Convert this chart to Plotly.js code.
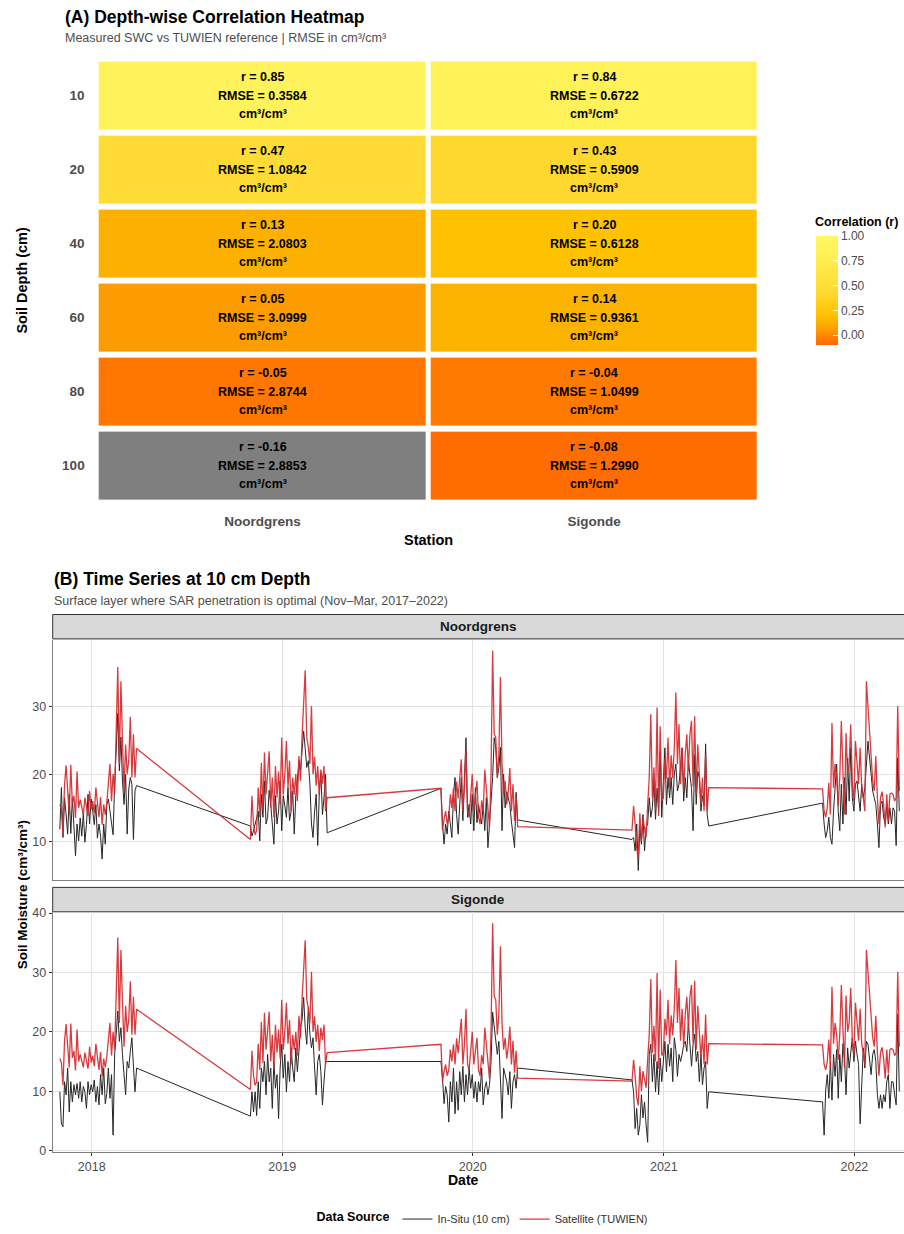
<!DOCTYPE html>
<html><head><meta charset="utf-8">
<script src="https://cdn.plot.ly/plotly-3.0.1.min.js"></script>
<style>html,body{margin:0;padding:0;background:#fff}#chart{width:904px;height:1234px}</style>
</head><body><div id="chart"></div>
<script>
// ---------- Panel A data ----------
const depths = ['10','20','40','60','80','100'];
const stations = ['Noordgrens','Sigonde'];
const rNoordgrens = [0.85, 0.47, 0.13, 0.05, -0.05, -0.16];
const rSigonde    = [0.84, 0.43, 0.20, 0.14, -0.04, -0.08];
const rmseNoordgrens = [0.3584, 1.0842, 2.0803, 3.0999, 2.8744, 2.8853];
const rmseSigonde    = [0.6722, 0.5909, 0.6128, 0.9361, 1.0499, 1.2990];
const colorTicks = [0, 0.25, 0.5, 0.75, 1];
const rLimits = [-0.1, 1];

// ---------- Panel B data (Nov–Mar seasons, one reading every 3 days) ----------
const seasonStarts = ['2017-11-01','2018-11-01','2019-11-01','2020-11-01','2021-11-01'];
const stepDays = 3;
const yearTicks = ['2018','2019','2020','2021','2022'];

const sat_2017_18 = [15.5,14.8,11.0,18.4,21.3,16.5,14.0,21.4,15.6,16.8,13.5,20.4,15.0,16.2,15.0,14.0,16.5,15.3,13.8,17.5,14.8,16.0,14.2,18.0,15.2,13.6,16.6,12.5,15.5,14.0,15.8,18.5,21.5,16.0,20.0,17.0,25.0,35.9,21.5,33.8,25.0,17.5,24.4,20.0,22.0,28.5,19.5,25.9,19.5,23.8];
const sat_2018_19 = [10.3,16.8,12.6,11.0,11.6,18.0,13.6,21.7,14.7,23.2,17.0,21.0,23.4,15.0,19.5,13.6,21.2,16.5,20.4,15.5,25.4,17.0,20.0,24.9,18.0,22.0,14.5,19.5,17.0,20.0,16.0,22.7,19.0,25.5,30.0,35.4,25.4,24.0,21.5,30.1,20.0,22.6,18.3,21.2,16.8,20.7,18.6,21.2,14.5,16.5];
const sat_2019_20 = [17.9,11.7,13.3,14.5,12.6,13.6,17.0,15.0,17.9,14.5,18.9,16.4,19.4,22.2,14.5,17.9,23.9,14.5,13.6,17.0,20.0,14.5,17.0,19.0,13.6,12.6,16.1,14.5,20.7,17.9,14.0,12.1,20.0,38.3,26.0,25.4,19.5,23.0,34.4,21.5,17.0,19.0,15.5,17.4,20.9,14.5,18.5,13.1,16.8,12.2];
const sat_2020_21 = [11.7,15.3,12.6,9.0,7.6,14.2,10.0,13.4,12.0,10.6,15.4,19.5,28.9,16.5,21.0,15.0,29.9,13.8,27.1,16.0,16.5,22.2,19.4,25.4,17.9,22.8,19.4,24.0,32.1,21.5,27.4,18.5,23.9,17.4,23.0,25.9,20.5,26.0,27.9,18.2,28.6,17.0,24.4,20.5,15.5,19.5,14.5,22.9,14.5,18.0];
const sat_2021_22 = [17.8,14.5,13.6,15.0,18.7,14.0,27.6,18.0,21.5,19.5,15.3,19.6,27.9,20.5,14.0,26.1,20.0,21.5,27.4,18.5,16.0,24.9,21.0,18.5,23.9,18.0,16.5,14.5,33.8,30.1,27.5,23.0,19.0,17.5,22.7,16.5,12.6,16.5,17.4,15.5,12.1,17.0,13.0,17.0,17.2,17.0,16.0,16.5,30.1,17.5];

const noord_2017_18 = [11.8,18.0,10.6,16.5,14.0,11.1,17.0,11.2,16.5,13.0,7.9,12.6,10.1,13.5,10.8,14.3,9.9,12.5,17.0,12.6,16.3,14.5,12.5,15.5,10.5,12.6,10.8,7.4,12.6,9.6,15.5,16.3,14.5,12.0,11.0,18.5,23.0,29.0,20.5,25.5,19.0,15.5,20.0,11.1,17.8,19.5,18.5,10.3,17.6,18.3];
const noord_2018_19 = [12.3,10.8,11.6,12.8,13.5,14.5,10.1,17.0,13.6,19.0,12.6,13.6,17.6,15.5,12.0,9.6,16.8,12.6,14.5,19.0,11.6,16.8,15.3,13.6,18.0,13.1,14.5,17.5,11.1,16.8,19.0,22.0,20.5,23.0,26.4,23.8,21.0,22.0,18.5,12.6,10.6,14.5,17.0,9.4,17.4,20.2,14.0,16.5,20.0,11.3];
const noord_2019_20 = [17.9,12.6,9.6,12.6,11.1,14.5,12.0,10.6,17.0,19.5,14.0,11.1,15.5,19.5,13.1,21.0,25.4,13.6,15.5,12.6,17.0,11.6,18.0,12.8,15.5,14.0,12.6,15.5,11.6,16.5,9.1,12.6,16.5,19.5,25.4,23.9,19.5,21.0,24.0,11.6,20.0,15.0,17.4,16.4,15.5,13.0,10.5,9.1,17.3,13.2];
const noord_2020_21 = [10.3,10.6,8.6,12.6,5.7,12.1,9.6,14.0,8.6,12.1,12.6,16.5,13.6,15.0,19.0,13.3,17.9,14.5,23.4,13.6,18.9,23.9,15.5,19.5,16.5,19.5,15.5,20.0,21.5,17.5,18.5,21.5,23.9,16.0,19.5,16.5,22.0,19.9,17.9,11.6,22.9,15.5,20.4,19.5,14.5,16.8,15.3,24.5,14.0,12.3];
const noord_2021_22 = [15.7,12.6,10.6,11.6,13.6,10.6,9.6,14.5,19.0,21.5,14.5,11.6,18.5,12.6,19.5,14.0,22.4,16.0,23.9,16.5,14.5,18.5,19.0,16.5,14.5,18.5,16.5,18.0,22.0,24.9,22.4,20.4,17.5,16.5,15.5,12.6,9.1,15.5,16.0,13.6,12.6,15.5,12.6,15.0,12.6,15.0,14.5,9.4,22.4,14.5];

const sig_2017_18 = [9.9,4.5,4.0,11.6,9.4,13.9,6.5,11.6,8.2,11.1,9.4,11.3,8.8,11.6,8.2,10.8,9.9,7.1,11.6,9.4,11.1,9.9,11.9,8.2,10.8,7.7,12.8,9.4,13.9,7.9,9.6,13.9,8.8,12.8,2.6,16.2,19.6,23.5,18.4,20.7,16.2,13.3,9.4,15.0,13.9,16.7,19.0,14.2,9.9,13.9];
const sig_2018_19 = [5.8,9.9,6.5,9.9,5.9,11.6,7.1,13.9,11.6,15.0,9.4,16.2,11.6,13.9,7.1,15.0,10.5,12.8,5.4,13.9,17.9,12.2,16.2,9.9,15.0,11.6,17.3,13.9,11.6,17.3,13.3,16.7,20.7,22.0,25.8,20.7,17.9,24.1,19.6,17.3,19.0,13.9,9.4,15.0,16.2,13.3,7.7,11.6,15.0,15.0];
const sig_2019_20 = [15.0,12.2,7.9,10.8,9.4,4.8,11.6,8.2,13.9,6.2,11.6,6.8,13.3,9.4,14.2,8.2,12.8,9.4,13.9,10.5,12.8,8.8,11.6,8.2,11.6,9.9,13.9,7.7,10.5,11.6,9.4,11.1,15.0,23.3,20.7,19.0,16.2,18.4,12.2,5.4,13.9,12.8,11.6,9.4,13.3,7.1,11.6,12.8,10.5,13.9];
const sig_2020_21 = [11.9,9.9,3.7,7.1,2.6,4.3,9.4,5.5,8.2,4.3,1.4,16.2,17.9,11.6,16.2,9.9,15.0,9.4,15.6,11.6,15.0,18.4,13.3,17.9,14.2,17.3,11.6,19.0,17.0,12.5,16.2,15.0,16.2,17.9,18.4,16.7,21.5,18.0,14.2,17.9,19.6,15.0,16.7,11.6,16.2,11.1,13.9,15.0,7.1,9.9];
const sig_2021_22 = [8.2,2.6,10.2,12.8,8.8,15.0,8.5,16.2,12.5,17.0,8.8,16.2,11.6,18.0,15.6,9.4,17.3,13.9,16.0,19.0,15.0,18.4,16.2,14.5,4.5,12.8,17.3,13.9,18.4,17.9,15.0,12.8,16.2,17.0,15.0,9.4,7.1,9.4,7.1,9.4,8.2,11.6,12.8,7.1,11.6,11.6,9.4,7.7,23.0,10.0];

// ---------- helpers ----------
const FONT = 'Liberation Sans, Arial, Helvetica, sans-serif';
function seasonDates(start, n){
  const t0 = Date.parse(start + 'T00:00:00Z');
  return Array.from({length:n}, (_, k) => new Date(t0 + k*stepDays*86400000).toISOString().slice(0,10));
}
function joinSeasons(list){
  const x = [], y = [];
  list.forEach((vals, i) => { x.push(...seasonDates(seasonStarts[i], vals.length)); y.push(...vals); });
  return {x, y};
}
const W = 904, H = 1234;
const px = v => v / W;
const py = v => (H - v) / H;

const satSeries = joinSeasons([sat_2017_18, sat_2018_19, sat_2019_20, sat_2020_21, sat_2021_22]);
const noordSeries = joinSeasons([noord_2017_18, noord_2018_19, noord_2019_20, noord_2020_21, noord_2021_22]);
const sigSeries = joinSeasons([sig_2017_18, sig_2018_19, sig_2019_20, sig_2020_21, sig_2021_22]);

// ---------- heatmap ----------
const rByStation = [rNoordgrens, rSigonde];
const rmseByStation = [rmseNoordgrens, rmseSigonde];
const zIn = depths.map((d, i) => rByStation.map(r => (r[i] >= rLimits[0] && r[i] <= rLimits[1]) ? r[i] : null));
const zOut = depths.map((d, i) => rByStation.map(r => (r[i] < rLimits[0] || r[i] > rLimits[1]) ? r[i] : null));

const colorscale = [
  [0.000, '#FF6400'], [0.018, '#FF6D00'], [0.045, '#FF7700'], [0.136, '#FC9C00'],
  [0.209, '#FCB100'], [0.273, '#FFC200'], [0.500, '#FFDA33'], [0.860, '#FFF25A'], [1.000, '#FFF862']
];

const traces = [
  {
    type: 'heatmap', x: stations, y: depths, z: zIn, zmin: rLimits[0], zmax: rLimits[1],
    colorscale: colorscale, xgap: 5, ygap: 6, hoverinfo: 'skip', xaxis: 'x', yaxis: 'y',
    colorbar: {
      x: px(816), xanchor: 'left', xpad: 0, ypad: 0,
      y: py(237), yanchor: 'top', lenmode: 'pixels', len: 109, thickness: 22,
      outlinewidth: 0, ticks: 'inside', ticklen: 5, tickcolor: '#FFFFFF',
      tickvals: colorTicks, ticktext: colorTicks.map(v => v.toFixed(2)),
      tickfont: {size: 12, color: '#4D4D4D', family: FONT}
    }
  },
  {
    type: 'heatmap', x: stations, y: depths, z: zOut, showscale: false,
    colorscale: [[0, '#7F7F7F'], [1, '#7F7F7F']], xgap: 5, ygap: 6, hoverinfo: 'skip', xaxis: 'x', yaxis: 'y'
  },
  // Noordgrens panel
  {type: 'scatter', mode: 'lines', x: noordSeries.x, y: noordSeries.y, name: 'In-Situ (10 cm)', legendgroup: 'ins',
   line: {color: '#262626', width: 1}, xaxis: 'x2', yaxis: 'y2', hoverinfo: 'skip'},
  {type: 'scatter', mode: 'lines', x: satSeries.x, y: satSeries.y, name: 'Satellite (TUWIEN)', legendgroup: 'sat',
   line: {color: '#D42A2F', width: 1.3}, opacity: 0.92, xaxis: 'x2', yaxis: 'y2', hoverinfo: 'skip'},
  // Sigonde panel
  {type: 'scatter', mode: 'lines', x: sigSeries.x, y: sigSeries.y, name: 'In-Situ (10 cm)', legendgroup: 'ins', showlegend: false,
   line: {color: '#262626', width: 1}, xaxis: 'x3', yaxis: 'y3', hoverinfo: 'skip'},
  {type: 'scatter', mode: 'lines', x: satSeries.x, y: satSeries.y, name: 'Satellite (TUWIEN)', legendgroup: 'sat', showlegend: false,
   line: {color: '#D42A2F', width: 1.3}, opacity: 0.92, xaxis: 'x3', yaxis: 'y3', hoverinfo: 'skip'}
];

// ---------- annotations ----------
const ann = [];
function addText(text, x, y, opts){ ann.push(Object.assign({text, x, y, xref: 'paper', yref: 'paper', showarrow: false,
  xanchor: 'center', yanchor: 'middle', font: {family: FONT, size: 13, color: '#000'}}, opts || {})); }

addText('<b>(A) Depth-wise Correlation Heatmap</b>', px(63), py(17), {xanchor: 'left', font: {family: FONT, size: 17.5, color: '#000'}});
addText('Measured SWC vs TUWIEN reference | RMSE in cm³/cm³', px(63), py(38), {xanchor: 'left', font: {family: FONT, size: 12.5, color: '#4D4D4D'}});
addText('<b>(B) Time Series at 10 cm Depth</b>', px(52), py(581), {xanchor: 'left', font: {family: FONT, size: 17.5, color: '#000'}});
addText('Surface layer where SAR penetration is optimal (Nov–Mar, 2017–2022)', px(52), py(603), {xanchor: 'left', font: {family: FONT, size: 12.5, color: '#4D4D4D'}});
addText('<b>Soil Depth (cm)</b>', px(22), py(281.7), {textangle: -90, font: {family: FONT, size: 14.5, color: '#000'}});
addText('<b>Station</b>', px(428.3), py(542), {font: {family: FONT, size: 14.5, color: '#000'}});
addText('<b>Correlation (r)</b>', px(813), py(223), {xanchor: 'left', font: {family: FONT, size: 12.5, color: '#000'}});
addText('<b>Noordgrens</b>', px(478.4), py(629.5), {font: {family: FONT, size: 13.5, color: '#1A1A1A'}});
addText('<b>Sigonde</b>', px(478.4), py(903.5), {font: {family: FONT, size: 13.5, color: '#1A1A1A'}});
addText('<b>Date</b>', px(463), py(1185), {font: {family: FONT, size: 14, color: '#000'}});
addText('<b>Soil Moisture (cm³/cm³)</b>', px(22), py(899), {textangle: -90, font: {family: FONT, size: 13.5, color: '#000'}});

stations.forEach((s, j) => {
  depths.forEach((d, i) => {
    const r = rByStation[j][i], e = rmseByStation[j][i];
    const lines = ['<b>r = ' + r.toFixed(2) + '</b>', '<b>RMSE = ' + e.toFixed(4) + '</b>', '<b>cm³/cm³</b>'];
    const shifts = [18.7, 0, -18.3];
    lines.forEach((t, li) => ann.push({text: t, x: j, y: i, xref: 'x', yref: 'y', showarrow: false,
      xanchor: 'center', yanchor: 'middle', yshift: shifts[li], font: {family: FONT, size: 12.5, color: '#000'}}));
  });
});

// ---------- shapes (facet strips) ----------
const stripStyle = {type: 'rect', xref: 'paper', yref: 'paper', fillcolor: '#D9D9D9', line: {color: '#333333', width: 1}, layer: 'below'};
const shapes = [
  Object.assign({x0: px(52.7), x1: 1.02, y0: py(641.5), y1: py(617)}, stripStyle),
  Object.assign({x0: px(52.7), x1: 1.02, y0: py(915.5), y1: py(891)}, stripStyle)
];

const tsRange = ['2017-10-18 08:00', '2022-04-06'];
const gridC = '#E2E2E2';
const tickFont = {family: FONT, size: 12.5, color: '#4D4D4D'};
const hmTickFont = {family: FONT, size: 13.5, color: '#4D4D4D', weight: 700};

const layout = {
  width: W, height: H, margin: {l: 0, r: 0, t: 0, b: 0},
  paper_bgcolor: '#FFFFFF', plot_bgcolor: '#FFFFFF',
  font: {family: FONT, color: '#000'},
  showlegend: true,
  legend: {orientation: 'h', x: px(484), xanchor: 'center', y: py(1224), yanchor: 'middle',
    font: {family: FONT, size: 11, color: '#333333'}, itemwidth: 30,
    title: {text: '<b>Data Source</b>', side: 'left', font: {family: FONT, size: 12.5, color: '#000'}}},
  xaxis: {domain: [px(96.65), px(760.05)], anchor: 'y', type: 'category', showgrid: false, zeroline: false,
    ticks: '', tickfont: hmTickFont, ticklabelstandoff: 9, fixedrange: true},
  yaxis: {domain: [py(504.55), py(58.85)], anchor: 'x', type: 'category', categoryorder: 'array', categoryarray: depths,
    autorange: 'reversed', showgrid: false, zeroline: false, ticks: '', tickfont: hmTickFont, ticklabelstandoff: 11},
  xaxis2: {domain: [px(52.7), 1], anchor: 'y2', type: 'date', range: tsRange, matches: 'x3', showticklabels: false,
    ticks: '', tick0: yearTicks[0] + '-01-01', dtick: 'M12', showgrid: true, gridcolor: gridC, gridwidth: 1,
    zeroline: false, showline: true, linecolor: '#808080', linewidth: 1},
  yaxis2: {domain: [py(883.3), py(642.2)], anchor: 'x2', range: [4.33, 39.97], tick0: 0, dtick: 10,
    showgrid: true, gridcolor: gridC, zeroline: false, ticks: 'outside', ticklen: 3, tickcolor: '#333333',
    tickfont: tickFont, showline: true, linecolor: '#808080', linewidth: 1},
  xaxis3: {domain: [px(52.7), 1], anchor: 'y3', type: 'date', range: tsRange, tick0: yearTicks[0] + '-01-01', dtick: 'M12',
    tickformat: '%Y', ticks: 'outside', ticklen: 3, tickcolor: '#333333', tickfont: tickFont,
    showgrid: true, gridcolor: gridC, zeroline: false, showline: true, linecolor: '#808080', linewidth: 1},
  yaxis3: {domain: [py(1156.7), py(916.2)], anchor: 'x3', range: [-0.24, 40.1], tick0: 0, dtick: 10,
    showgrid: true, gridcolor: gridC, zeroline: false, ticks: 'outside', ticklen: 3, tickcolor: '#333333',
    tickfont: tickFont, showline: true, linecolor: '#808080', linewidth: 1},
  annotations: ann,
  shapes: shapes
};

Plotly.newPlot('chart', traces, layout, {staticPlot: true, displayModeBar: false});
</script>
</body></html>
